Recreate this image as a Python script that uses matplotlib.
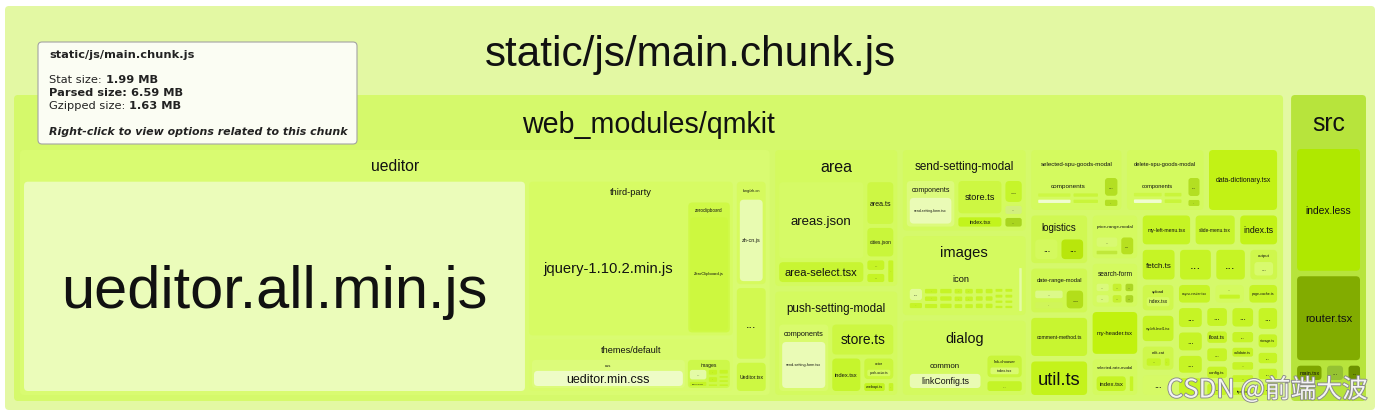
import matplotlib.pyplot as plt
import matplotlib.patheffects as pe
from matplotlib.patches import FancyBboxPatch
from matplotlib.textpath import TextPath
from matplotlib.font_manager import FontProperties

H, V = "h", "v"

# leaves: (name, size)   groups: (name, size, split, children)   name None = unlabeled row/column
UEDITOR = ("ueditor", 1860, H, [
    ("ueditor.all.min.js", 1042),
    (None, 424, V, [
        ("third-party", 316, H, [
            ("jquery-1.10.2.min.js", 203),
            ("zeroclipboard", 55, V, [("ZeroClipboard.js", 44)]),
        ]),
        ("themes/default", 106, H, [
            ("css", 51, V, [("ueditor.min.css", 30)]),
            ("images", 14, H, [
                (None, 4.2, V, [("...", 2.8), ("icons-all.gif", 1.2)]),
                (None, 2.1, V, [("...", 0.9), ("...", 0.9), ("...", 0.3)]),
                (None, 2.1, V, [("...", 0.9), ("...", 0.4), ("...", 0.4), ("...", 0.4)]),
            ]),
        ]),
    ]),
    (None, 60, V, [
        ("lang/zh-cn", 29, V, [("zh-cn.js", 20)]),
        ("...", 20),
        ("Ueditor.tsx", 8),
    ]),
])

AREA = ("area", 167, H, [
    (None, 86, V, [("areas.json", 65), ("area-select.tsx", 17)]),
    (None, 26.5, V, [
        ("area.ts", 11),
        ("cities.json", 7.5),
        (None, 5.7, H, [(None, 4.4, V, [("...", 2.0), ("...", 1.7)]), ("...", 1.3)]),
    ]),
])

PUSH = ("push-setting-modal", 127, H, [
    ("components", 33, V, [("send-setting-form.tsx", 20)]),
    (None, 41, V, [
        ("store.ts", 18),
        (None, 19.5, H, [
            ("index.tsx", 9),
            (None, 9.3, V, [
                ("actor", 6, V, [("push-actor.ts", 3)]),
                (None, 2.3, H, [("webapi.ts", 1.8), ("...", 0.4)]),
            ]),
        ]),
    ]),
])

SEND = ("send-setting-modal", 104, H, [
    ("components", 21, V, [("send-setting-form.tsx", 10)]),
    (None, 19, V, [("store.ts", 15), ("index.tsx", 4.3)]),
    (None, 7.2, V, [("...", 3.4), ("...", 1.3), ("...", 1.4)]),
])

ICON = [
    (None, 3.2, V, [("...", 2.2), ("...", 1.0)]),
    (None, 3.2, V, [("...", 1.1), ("...", 1.1), ("...", 1.0)]),
    (None, 3.0, V, [("...", 1.0), ("...", 1.0), ("...", 1.0)]),
    (None, 2.0, V, [("...", 0.7), ("...", 0.7), ("...", 0.6)]),
    (None, 2.0, V, [("...", 0.7), ("...", 0.7), ("...", 0.6)]),
    (None, 1.8, V, [("...", 0.6), ("...", 0.6), ("...", 0.6)]),
    (None, 1.8, V, [("...", 0.6), ("...", 0.6), ("...", 0.6)]),
    (None, 1.8, V, [("...", 0.5), ("...", 0.5), ("...", 0.4), ("...", 0.4)]),
    (None, 1.8, V, [("...", 0.5), ("...", 0.5), ("...", 0.4), ("...", 0.4)]),
]
IMAGES = ("images", 102, H, [("icon", 53, H, ICON), ("...", 1.2)])

DIALOG = ("dialog", 96, H, [
    ("common", 28, V, [("linkConfig.ts", 12)]),
    (None, 12.5, V, [("link-chooser", 7.3, V, [("index.tsx", 4)]), ("...", 3.3)]),
])

SPU_SELECT = ("selected-spu-goods-modal", 53, H, [
    ("components", 19, H, [
        (None, 3.3, V, [("...", 1.2), ("...", 1.2)]),
        (None, 2.5, V, [("...", 1.0), ("...", 1.0)]),
    ]),
    (None, 3.6, V, [("...", 2.0), ("...", 0.7)]),
])
SPU_DELETE = ("delete-spu-goods-modal", 45, H, [
    ("components", 16, H, [
        (None, 3.3, V, [("...", 1.2), ("...", 1.2)]),
        (None, 2.0, V, [("...", 1.0), ("...", 1.0)]),
    ]),
    (None, 3.3, V, [("...", 1.8), ("...", 0.6)]),
])

LOGISTICS = ("logistics", 25, H, [("...", 3.7), ("...", 3.6)])
DATE_RANGE = ("date-range-modal", 23, H, [(None, 4, V, [("...", 2.2), ("...", 1.8)]), ("...", 2.4)])
PRICE = ("price-range-modal", 18, H, [(None, 2.6, V, [("...", 1.6), ("...", 0.6)]), ("...", 1.5)])
SEARCH = ("search-form", 18, H, [
    (None, 2.2, V, [("...", 1), ("...", 1)]),
    (None, 1.6, V, [("...", 0.8), ("...", 0.8)]),
    (None, 1.4, V, [("...", 0.7), ("...", 0.7)]),
])
RATE = ("selected-rate-modal", 15, H, [("index.tsx", 3), ("...", 0.35)])

ROW_A = (None, 37, H, [("my-left-menu.tsx", 12.6), ("slide-menu.tsx", 10.4), ("index.ts", 9.8)])
ROW_B = (None, 38, H, [("fetch.ts", 8.7), ("...", 8.4), ("...", 7.8), ("output", 7.3, V, [("...", 3)])])
SMALL_1 = (None, 17.4, V, [("...", 3.6), ("...", 3.4), ("...", 3.2), ("...", 3.2)])
SMALL_2 = (None, 15, V, [("...", 2.5), ("float.ts", 1.6), ("...", 1.8), ("config.ts", 1.6), ("...", 1.6)])
SMALL_3 = (None, 15.8, V, [("...", 2.7), ("...", 1.5), ("validate.ts", 1.3), ("...", 1.1), ("...", 1.0), ("tips.ts", 1.1)])
SMALL_4 = (None, 14.1, V, [("...", 2.4), ("storage.ts", 1.5), ("...", 1.2), ("...", 1.2), ("...", 1.2)])
REST3 = (None, 141, H, [
    (None, 32, V, [
        ("upload", 6.9, V, [("index.tsx", 3)]),
        ("my-left-level1.tsx", 6.9),
        ("edit-cat", 6.3, H, [("...", 1.5), ("...", 0.5)]),
        ("...", 5.4),
    ]),
    (None, 102, V, [
        (None, 16, H, [("async-router.tsx", 4.8), ("...", 4.4, V, [("...", 1)]), ("page-cache.ts", 4.3)]),
        (None, 79, H, [SMALL_1, SMALL_2, SMALL_3, SMALL_4]),
    ]),
])

COL_A = (None, 303, V, [AREA, PUSH])
COL_B = (None, 305, V, [SEND, IMAGES, DIALOG])
ROW1 = (None, 148, H, [SPU_SELECT, SPU_DELETE, ("data-dictionary.tsx", 40)])
LOWER = (None, 443, H, [
    (None, 99, V, [LOGISTICS, DATE_RANGE, ("comment-method.ts", 20), ("util.ts", 17.6)]),
    (None, 79, V, [PRICE, SEARCH, ("my-header.tsx", 17.6), RATE]),
    (None, 238, V, [ROW_A, ROW_B, REST3]),
])
REST = (None, 610, V, [ROW1, LOWER])

QMKIT = ("web_modules/qmkit", 3896, H, [UEDITOR, COL_A, COL_B, REST])
SRC = ("src", 230, V, [
    ("index.less", 74),
    ("router.tsx", 51),
    (None, 8.7, H, [("main.tsx", 3.2), ("...", 2.1), ("...", 1.5)]),
])
CHUNK = ("static/js/main.chunk.js", 5535, H, [QMKIT, SRC])

TIP_TITLE = "static/js/main.chunk.js"
TIP_ROWS = [("Stat size:", " 1.99 MB", "normal"),
            ("Parsed size:", " 6.59 MB", "bold"),
            ("Gzipped size:", " 1.63 MB", "normal")]
TIP_HINT = "Right-click to view options related to this chunk"
WATERMARK = "CSDN @前端大波"

# ---- styling (keyed by "parent/name", "#k" for repeated names)
COLOR = {
    "static/js/main.chunk.js": "#e3f8a3", "web_modules/qmkit": "#d5f96b", "src": "#b7e43c",
    "ueditor": "#d9fb71", "ueditor.all.min.js": "#ebfcba",
    "third-party": "#d7fb64", "jquery-1.10.2.min.js": "#d7fb64",
    "zeroclipboard": "#cff946", "ZeroClipboard.js": "#cdf83f",
    "themes/default": "#d9fb6c", "themes/default/css": "#dcfb7a", "ueditor.min.css": "#eefcc6",
    "themes/default/images": "#cdf84a", "images/...#1": "#e4fba6",
    "lang/zh-cn": "#d6fa5e", "zh-cn.js": "#e8fbb1", "ueditor/...#1": "#d2f950", "Ueditor.tsx": "#cdf842",
    "areas.json": "#d6fa66", "area-select.tsx": "#c8f532", "area.ts": "#cdf744", "cities.json": "#c9f63a",
    "push-setting-modal/components": "#d9fa6d", "send-setting-modal/components": "#dcfa7c",
    "send-setting-form.tsx": "#eafbb6", "store.ts": "#cdf742",
    "push-setting-modal/index.tsx": "#c6f52c", "send-setting-modal/index.tsx": "#c2f41c",
    "actor": "#cbf63c", "push-actor.ts": "#d6fa63", "webapi.ts": "#c3f41f",
    "send-setting-modal/...#1": "#c6f52a", "send-setting-modal/...#2": "#d2ef7e",
    "send-setting-modal/...#3": "#a9d51f",
    "linkConfig.ts": "#e9fbb3", "link-chooser": "#c9f53a", "link-chooser/index.tsx": "#d9fa70",
    "dialog/...#1": "#c4f427", "icon/...#1": "#e2fa9c",
    "components/...#1": "#cdf744", "components/...#2": "#f0fcd0",
    "components/...#3": "#c9f53a", "components/...#4": "#c9f53a",
    "selected-spu-goods-modal/...#1": "#b3df22", "selected-spu-goods-modal/...#2": "#b3df22",
    "delete-spu-goods-modal/...#1": "#b3df22", "delete-spu-goods-modal/...#2": "#b3df22",
    "data-dictionary.tsx": "#c2f215",
    "logistics": "#d0f852", "logistics/...#1": "#d4f95e", "logistics/...#2": "#b8e60c",
    "date-range-modal": "#d0f852", "date-range-modal/...#1": "#dcf98a",
    "date-range-modal/...#2": "#d0f55a", "date-range-modal/...#3": "#b3de1a",
    "price-range-modal/...#1": "#d8f972", "price-range-modal/...#2": "#c0e83a",
    "price-range-modal/...#3": "#b7e020",
    "search-form/...#1": "#daf97c", "search-form/...#2": "#daf97c", "search-form/...#3": "#c6f02f",
    "search-form/...#4": "#c6f02f", "search-form/...#5": "#acd624", "search-form/...#6": "#acd624",
    "comment-method.ts": "#c8f530", "util.ts": "#c4f31b", "my-header.tsx": "#c1f20e",
    "my-left-menu.tsx": "#c5f424", "slide-menu.tsx": "#c7f52c", "index.ts": "#c3f317",
    "output": "#cff74c", "output/...#1": "#d8fa6e", "upload": "#cff74c", "upload/index.tsx": "#d6fa63",
    "edit-cat": "#cff74c", "web_modules/qmkit/...#3": "#d6fa66",
    "index.less": "#afe800", "router.tsx": "#82ac00", "main.tsx": "#7ea600",
    "src/...#1": "#95c233", "src/...#2": "#6d9200",
}
FONT = {  # label em size in px
    "static/js/main.chunk.js": 42.3, "web_modules/qmkit": 28.6, "src": 24.7, "ueditor": 15.7,
    "third-party": 9.3, "themes/default": 9.1, "zeroclipboard": 4.5, "themes/default/css": 4.2,
    "themes/default/images": 5.0, "lang/zh-cn": 3.8, "icon": 9.3, "logistics": 9.8,
    "ueditor.all.min.js": 59.5, "jquery-1.10.2.min.js": 14.8, "areas.json": 13.2,
    "area-select.tsx": 11.1, "util.ts": 18.4, "push-setting-modal/store.ts": 13.7,
    "send-setting-modal/store.ts": 9.2, "ueditor.min.css": 12.5, "index.less": 10.3,
    "router.tsx": 11.5, "linkConfig.ts": 8.8,
}
HEAD = {
    "static/js/main.chunk.js": 89, "web_modules/qmkit": 55, "src": 54, "zeroclipboard": 15,
    "lang/zh-cn": 18, "themes/default/css": 11, "themes/default/images": 10,
    "push-setting-modal": 33, "send-setting-modal": 31, "logistics": 24,
    "web_modules/qmkit/images": 32, "dialog": 35,
    "selected-spu-goods-modal": 28, "delete-spu-goods-modal": 28,
    "date-range-modal": 22, "price-range-modal": 22, "search-form": 20, "selected-rate-modal": 17,
}
TAIL = {"src": 15}  # extra empty space under a group's children
PAD = [9, 6, 4, 3, 2]
GAP = [8, 5.5, 4, 3, 2.5]
LABEL_FONT = FontProperties(family="Liberation Sans")

fig = plt.figure(figsize=(13.76, 4.13), dpi=100)
ax = fig.add_axes([0, 0, 1, 1])
ax.set_xlim(0, 1376)
ax.set_ylim(413, 0)
ax.axis("off")

seen = {}


def ink(s):
    return max(TextPath((0, 0), s, size=1, prop=LABEL_FONT).get_extents().width, 0.3)


def look(table, parent, name, k):
    for key in (f"{parent}/{name}#{k}", f"{parent}/{name}", name):
        if key in table:
            return table[key]
    return None


def label(x, y, s, em, z):
    if em < 2:
        return
    # baseline placed so that the cap height is centred on y
    ax.text(x, y + 0.36 * em, s, ha="center", va="baseline", fontsize=em * 0.72,
            family="Liberation Sans", color="#111111", zorder=z)


def place(kids, x0, y0, x1, y1, split, gap, depth, parent, path):
    total = sum(k[1] for k in kids)
    span = (x1 - x0) if split == H else (y1 - y0)
    avail = span - gap * (len(kids) - 1)
    pos = x0 if split == H else y0
    for k in kids:
        ext = avail * k[1] / total
        if split == H:
            draw(k, pos, y0, pos + ext, y1, depth, parent, path, gap)
        else:
            draw(k, x0, pos, x1, pos + ext, depth, parent, path, gap)
        pos += ext + gap


def draw(node, x0, y0, x1, y1, depth, parent, path, gap):
    name = node[0]
    if name is None:
        place(node[3], x0, y0, x1, y1, node[2], gap, depth, parent, path)
        return
    cnt = seen.get((path, name), 0) + 1
    seen[(path, name)] = cnt
    w, h = x1 - x0, y1 - y0
    if w < 0.8 or h < 0.8:
        return
    leaf = len(node) == 2
    color = look(COLOR, parent, name, cnt) or ("#c6f425" if leaf else "#d4fa5f")
    r = min(4, 0.25 * min(w, h))
    ax.add_patch(FancyBboxPatch((x0, y0), w, h, boxstyle=f"round,pad=0,rounding_size={r}",
                                fc=color, ec="none", zorder=depth + 1))
    cx = (x0 + x1) / 2
    em = look(FONT, parent, name, cnt)
    if leaf:
        if em is None:
            em = min(0.8 * w / ink(name), 0.58 * h, 64)
            if name == "...":
                em = min(em, 0.45 * min(w, h))
        label(cx, (y0 + y1) / 2, name, em, depth + 1.5)
        return
    if em is None:
        em = max(2, min(0.8 * w / ink(name), 0.15 * (w * h) ** 0.5, 16))
    head = look(HEAD, parent, name, cnt) or min(1.7 * em + 5, 0.55 * h)
    label(cx, y0 + head / 2, name, em, depth + 1.5)
    d = min(depth, 4)
    tail = look(TAIL, parent, name, cnt) or 0
    place(node[3], x0 + PAD[d], y0 + head, x1 - PAD[d], y1 - PAD[d] - tail, node[2], GAP[d],
          depth + 1, name, path + "/" + name)


draw(CHUNK, 5, 6, 1375, 410, 0, "", "", 0)

# tooltip
ax.add_patch(FancyBboxPatch((38, 42), 319, 102, boxstyle="round,pad=0,rounding_size=4",
                            fc="#fbfdf3", ec="#a3a3a3", lw=0.8, zorder=30))
renderer = fig.canvas.get_renderer()
tip = dict(family="DejaVu Sans", va="center", ha="left", color="#222222", zorder=31)
ax.text(49, 55, TIP_TITLE, fontweight="bold", fontsize=8.2, **tip)
for i, (lab, val, wt) in enumerate(TIP_ROWS):
    y = 80 + 13 * i
    t = ax.text(49, y, lab, fontweight=wt, fontsize=8.2, **tip)
    bb = t.get_window_extent(renderer)
    ax.text(49 + bb.width, y, val, fontweight="bold", fontsize=8.2, **tip)
ax.text(49, 132, TIP_HINT, fontweight="bold", fontstyle="italic", fontsize=7.9, **tip)

# watermark
ax.text(1368, 390, WATERMARK, ha="right", va="center", fontsize=18.5,
        family=["Noto Sans CJK SC", "DejaVu Sans"], color="#f4f4f4", zorder=40,
        path_effects=[pe.withStroke(linewidth=1.3, foreground="#8a8a8a")])

fig.savefig("out.png", dpi=100, facecolor="white")
